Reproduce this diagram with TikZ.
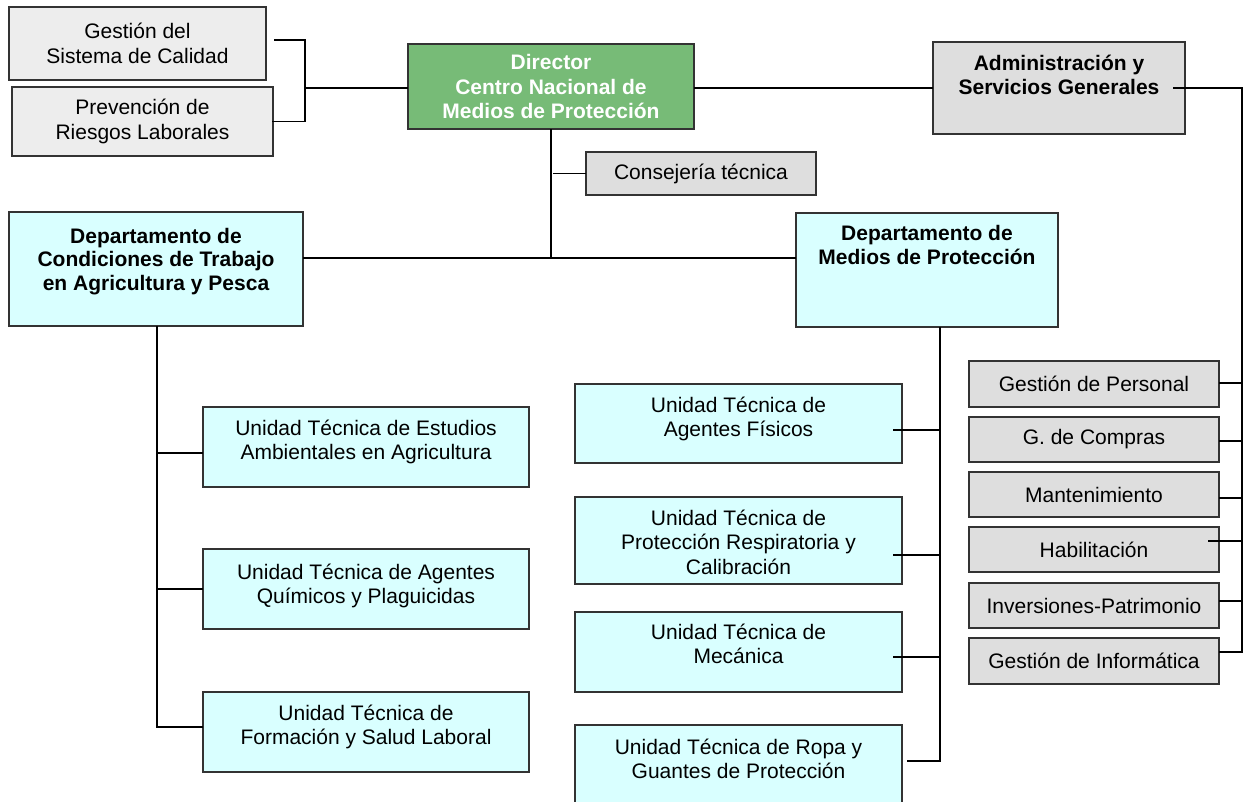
\documentclass[tikz,border=0pt]{standalone}
\usepackage{fontspec}
\setmainfont{Liberation Sans}
\definecolor{gLight}{HTML}{EDEDED}
\definecolor{gMid}{HTML}{DEDEDE}
\definecolor{cyanL}{HTML}{D9FFFF}
\definecolor{dirG}{HTML}{77BB77}
\definecolor{edgeC}{HTML}{333333}
\newcommand{\fst}{\rule{0pt}{20pt}}
\begin{document}
\begin{tikzpicture}[x=1pt,y=-1pt,
  every node/.style={font=\fontsize{21}{24.5}\selectfont},
  box/.style={draw=edgeC, line width=1.5pt, inner sep=0pt, outer sep=0pt, anchor=north west, align=center},
  lbl/.style={inner sep=0pt, align=center, anchor=north},
  conn/.style={line width=1.4pt, black}]
\useasboundingbox (0,0) rectangle (1244,801);

% top-left boxes
\node[box, fill=gLight, minimum width=257pt, minimum height=73pt] (qual) at (9,7) {Gestión del\\Sistema de Calidad};
\node[box, fill=gLight, minimum width=261pt, minimum height=69pt] (prev) at (12,87) {Prevención de\\Riesgos Laborales};

% director
\node[box, fill=dirG, text=white, font=\fontsize{21}{24.5}\selectfont\bfseries, minimum width=286pt, minimum height=85pt] (dir) at (408,44) {Director\\Centro Nacional de\\Medios de Protección};

% consejeria
\node[box, fill=gMid, minimum width=230pt, minimum height=43pt] (cons) at (586,152) {Consejería técnica};

% administracion
\node[box, fill=gMid, minimum width=252pt, minimum height=92pt] (adm) at (933,42) {};
\node[lbl, font=\fontsize{21}{24.5}\selectfont\bfseries] (admt) at ([yshift=-8pt]adm.north) {\fst Administración y\\Servicios Generales};

% departments
\node[box, fill=cyanL, minimum width=294pt, minimum height=114pt] (deptL) at (9,212) {};
\node[lbl, font=\fontsize{21}{23.5}\selectfont\bfseries] (deptLt) at ([yshift=-11pt]deptL.north) {\fst Departamento de\\Condiciones de Trabajo\\en Agricultura y Pesca};
\node[box, fill=cyanL, minimum width=262pt, minimum height=114pt] (deptR) at (796,213) {};
\node[lbl, font=\fontsize{21}{24.5}\selectfont\bfseries] (deptRt) at ([yshift=-7pt]deptR.north) {\fst Departamento de\\Medios de Protección};

% right column
\node[box, fill=gMid, minimum width=250pt, minimum height=46pt] (gp) at (969,361) {Gestión de Personal};
\node[box, fill=gMid, minimum width=250pt, minimum height=45pt] (gc) at (969,417) {G. de Compras};
\node[box, fill=gMid, minimum width=250pt, minimum height=45pt] (mant) at (969,472) {Mantenimiento};
\node[box, fill=gMid, minimum width=250pt, minimum height=45pt] (hab) at (969,527) {Habilitación};
\node[box, fill=gMid, minimum width=250pt, minimum height=45pt] (inv) at (969,583) {Inversiones-Patrimonio};
\node[box, fill=gMid, minimum width=250pt, minimum height=46pt] (inf) at (969,638) {Gestión de Informática};

% left units
\node[box, fill=cyanL, minimum width=326pt, minimum height=80pt] (uL1) at (203,407) {};
\node[lbl] (uL1t) at ([yshift=-8pt]uL1.north) {\fst Unidad Técnica de Estudios\\Ambientales en Agricultura};
\node[box, fill=cyanL, minimum width=326pt, minimum height=80pt] (uL2) at (203,549) {};
\node[lbl] (uL2t) at ([yshift=-10pt]uL2.north) {\fst Unidad Técnica de Agentes\\Químicos y Plaguicidas};
\node[box, fill=cyanL, minimum width=326pt, minimum height=80pt] (uL3) at (203,692) {};
\node[lbl] (uL3t) at ([yshift=-8pt]uL3.north) {\fst Unidad Técnica de\\Formación y Salud Laboral};

% right units
\node[box, fill=cyanL, minimum width=327pt, minimum height=79pt] (uR1) at (575,384) {};
\node[lbl] (uR1t) at ([yshift=-8pt]uR1.north) {\fst Unidad Técnica de\\Agentes Físicos};
\node[box, fill=cyanL, minimum width=327pt, minimum height=87pt] (uR2) at (575,497) {};
\node[lbl] (uR2t) at ([yshift=-8pt]uR2.north) {\fst Unidad Técnica de\\Protección Respiratoria y\\Calibración};
\node[box, fill=cyanL, minimum width=327pt, minimum height=80pt] (uR3) at (575,612) {};
\node[lbl] (uR3t) at ([yshift=-7pt]uR3.north) {\fst Unidad Técnica de\\Mecánica};
\node[box, fill=cyanL, minimum width=327pt, minimum height=95pt] (uR4) at (575,725) {};
\node[lbl] (uR4t) at ([yshift=-9pt]uR4.north) {\fst Unidad Técnica de Ropa y\\Guantes de Protección};

% helper coordinates
\coordinate (hTop) at (0,88);
\coordinate (hMid) at (0,258);
\coordinate (vR) at (1242,0);
\coordinate (vRt) at (940,0);
\coordinate (jqt) at (305,40);
\coordinate (jq) at (305,88);
\coordinate (jqb) at (305,121.5);

% top-left connectors
\draw[conn] ([xshift=8pt,yshift=3.5pt]qual.east) -- (jqt) -- (jqb) -- ([xshift=-1pt]prev.east);
\draw[conn] (jq) -- (dir.west |- hTop);
\draw[conn] (dir.east |- hTop) -- (adm.west |- hTop);

% director down
\draw[conn] (dir.south) -- (dir.south |- hMid);
\draw[conn] (cons.west) -- ([xshift=2pt]cons.west -| dir.south);
\draw[conn] (deptL.east |- hMid) -- (deptR.west |- hMid);

% administration column
\coordinate (a0) at ([xshift=-12pt]adm.east |- hTop);
\coordinate (a1) at ([yshift=1pt]gp.east);
\coordinate (a2) at ([yshift=-1.5pt]gc.east);
\coordinate (a3) at ([yshift=-3.5pt]mant.east);
\coordinate (a4) at ([xshift=-11pt,yshift=8.5pt]hab.east);
\coordinate (a5) at ([yshift=4.5pt]inv.east);
\coordinate (a6) at ([yshift=9pt]inf.east);
\draw[conn] (a0) -- (a0 -| vR) -- (a6 -| vR) -- (a6);
\foreach \p in {a1,a2,a3,a4,a5} \draw[conn] (\p) -- (\p -| vR);

% left department column
\coordinate (vL) at ([xshift=1pt]deptL.south);
\coordinate (l1) at ([yshift=-6pt]uL1.west);
\coordinate (l2) at (uL2.west);
\coordinate (l3) at ([yshift=5pt]uL3.west);
\draw[conn] (vL) |- (l3);
\foreach \p in {l1,l2} \draw[conn] (\p -| vL) -- (\p);

% right department column
\coordinate (r1) at ([xshift=-9pt,yshift=-6.5pt]uR1.east);
\coordinate (r2) at ([xshift=-9pt,yshift=-14.5pt]uR2.east);
\coordinate (r3) at ([xshift=-9pt,yshift=-5pt]uR3.east);
\coordinate (r4) at ([xshift=5pt,yshift=11.5pt]uR4.east);
\draw[conn] (deptR.south -| vRt) -- (r4 -| vRt) -- (r4);
\foreach \p in {r1,r2,r3} \draw[conn] (\p) -- (\p -| vRt);
\end{tikzpicture}
\end{document}
